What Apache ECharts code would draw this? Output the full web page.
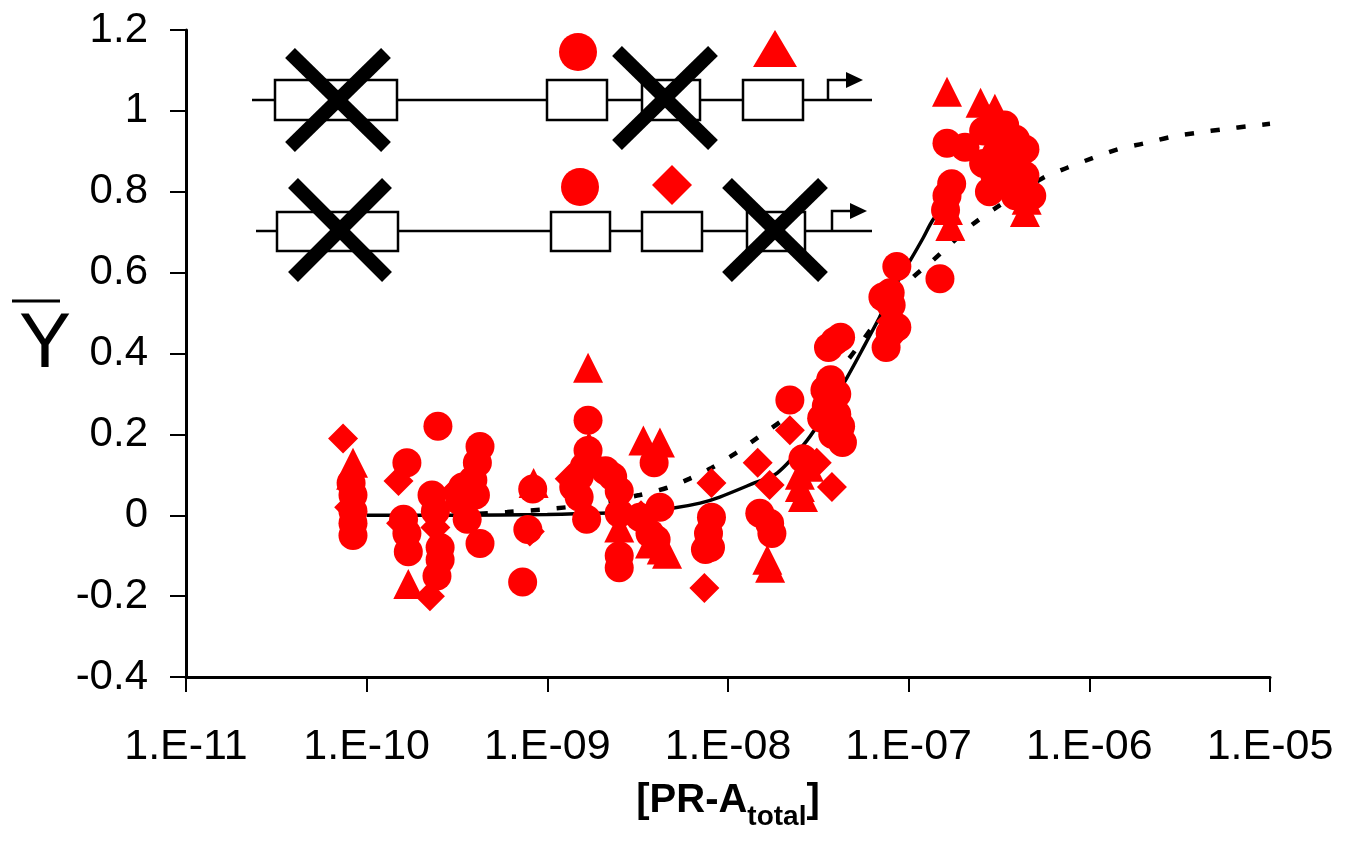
<!DOCTYPE html>
<html><head><meta charset="utf-8">
<script src="https://cdn.jsdelivr.net/npm/echarts@6/dist/echarts.min.js"></script>
<style>html,body{margin:0;padding:0;background:#fff}#c{width:1358px;height:842px}</style>
</head><body><div id="c"></div>
<script>
// ---------- DATA ----------
const xTickLabels = ['1.E-11','1.E-10','1.E-09','1.E-08','1.E-07','1.E-06','1.E-05'];
const xAxisTitle = ['[PR-A', 'total', ']'];
const yAxisTitle = 'Y';

// circle markers: [PR-A total], Ybar
const circles = [
  [8.2e-11,0.08],[8.4e-11,0.05],[8.4e-11,0.01],[8.4e-11,-0.02],[8.4e-11,-0.05],
  [1.67e-10,0.13],[1.6e-10,-0.01],[1.67e-10,-0.045],[1.7e-10,-0.09],
  [2.48e-10,0.22],[2.3e-10,0.05],[2.4e-10,0.01],[2.55e-10,-0.08],[2.55e-10,-0.11],[2.45e-10,-0.15],
  [4.24e-10,0.17],[4.1e-10,0.13],[3.87e-10,0.087],[3.4e-10,0.07],[3.28e-10,0.035],[3.6e-10,-0.01],[4.24e-10,-0.07],[4.0e-10,0.05],
  [8.3e-10,0.065],[7.8e-10,-0.035],[7.3e-10,-0.165],
  [1.68e-9,0.235],[1.6e-9,0.12],[1.5e-9,0.095],[1.5e-9,0.045],[1.65e-9,-0.01],[1.68e-9,0.16],[1.4e-9,0.07],
  [2.1e-9,0.11],[2.3e-9,0.095],[2.5e-9,0.06],[2.5e-9,0.005],[2.5e-9,-0.1],[2.5e-9,-0.13],
  [3.9e-9,0.13],[3.25e-9,-0.005],[3.7e-9,-0.045],[4.2e-9,0.02],[4.0e-9,-0.06],
  [8.1e-9,-0.005],[7.8e-9,-0.045],[7.5e-9,-0.085],[8.0e-9,-0.08],
  [1.5e-8,0.005],[1.7e-8,-0.02],[1.75e-8,-0.045],
  [2.2e-8,0.285],[2.6e-8,0.14],
  [3.44e-8,0.31],[3.7e-8,0.335],[3.9e-8,0.43],[3.6e-8,0.415],[4.2e-8,0.44],[3.5e-8,0.27],[4.0e-8,0.25],
  [4.2e-8,0.22],[3.8e-8,0.2],[4.3e-8,0.18],[4.0e-8,0.3],[3.3e-8,0.24],
  [8.6e-8,0.615],[7.9e-8,0.55],[7.2e-8,0.54],[7.9e-8,0.45],[7.5e-8,0.415],[8.6e-8,0.465],[8.0e-8,0.52],
  [1.49e-7,0.585],
  [1.63e-7,0.92],[1.73e-7,0.82],[1.63e-7,0.79],[1.6e-7,0.755],
  [2.05e-7,0.91],[2.6e-7,0.95],[3.4e-7,0.965],[3.9e-7,0.93],[4.4e-7,0.905],[4.4e-7,0.84],[4.8e-7,0.79],
  [3.0e-7,0.84],[2.6e-7,0.87],[3.6e-7,0.88],[2.8e-7,0.8],[3.9e-7,0.79],[3.3e-7,0.9]
];
const triangles = [
  [8.4e-11,0.13],[8.2e-11,0.10],
  [1.7e-10,-0.17],
  [8.4e-10,0.08],
  [1.68e-9,0.365],[1.7e-9,0.17],[1.6e-9,0.14],
  [2.5e-9,-0.03],
  [3.4e-9,0.185],[4.2e-9,0.18],[4.3e-9,-0.085],[4.6e-9,-0.095],[3.7e-9,-0.07],
  [1.71e-8,-0.13],[1.65e-8,-0.11],
  [2.5e-8,0.1],[2.5e-8,0.07],[2.6e-8,0.045],[2.8e-8,0.12],
  [1.63e-7,1.047],[1.65e-7,0.755],[1.7e-7,0.715],
  [2.5e-7,1.02],[3.0e-7,1.005],[4.4e-7,0.75],[4.5e-7,0.78],[2.8e-7,0.98],[3.6e-7,0.84],[3.0e-7,0.93]
];
const diamonds = [
  [7.4e-11,0.19],[8.0e-11,0.02],
  [1.5e-10,0.085],[1.55e-10,-0.02],
  [2.24e-10,-0.2],[2.4e-10,-0.03],
  [3.1e-10,0.06],[3.3e-10,0.045],
  [8.0e-10,-0.04],
  [1.33e-9,0.09],[1.45e-9,0.1],
  [3.3e-9,0.0],
  [8.1e-9,0.08],[7.4e-9,-0.18],
  [1.46e-8,0.13],[1.7e-8,0.075],
  [2.2e-8,0.21],
  [3.76e-8,0.07],[3.1e-8,0.13],
  [8.0e-8,0.48],
  [3.0e-7,0.96]
];
// fitted curves
const solidFit = [
  [1.0e-10,0.0],[3.0e-10,0.0],[1.0e-9,0.002],[3.0e-9,0.008],[5.0e-9,0.018],[7.0e-9,0.03],[9.0e-9,0.045],
  [1.4e-8,0.08],[1.87e-8,0.104],[2.74e-8,0.185],[3.6e-8,0.265],[4.55e-8,0.34],[5.7e-8,0.42],[7.1e-8,0.5],
  [8.5e-8,0.57],[1.02e-7,0.63],[1.2e-7,0.685],[1.36e-7,0.73],[1.6e-7,0.77]
];
const dottedFit = [
  [3.0e-10,0.0],[6.0e-10,0.008],[1.0e-9,0.015],[1.6e-9,0.025],[2.3e-9,0.037],[3.25e-9,0.05],
  [4.6e-9,0.068],[6.1e-9,0.09],[8.1e-9,0.117],[1.1e-8,0.153],[1.44e-8,0.19],[2.0e-8,0.235],
  [2.8e-8,0.29],[4.44e-8,0.376],[5.57e-8,0.433],[7.5e-8,0.51],[1.05e-7,0.587],[1.36e-7,0.63],
  [1.76e-7,0.676],[2.27e-7,0.72],[3.08e-7,0.762],[5.53e-7,0.834],[7.6e-7,0.86],[1.04e-6,0.883],
  [1.44e-6,0.905],[2.03e-6,0.92],[2.86e-6,0.936],[3.98e-6,0.946],[5.6e-6,0.955],[7.9e-6,0.963],[1.0e-5,0.968]
];

// ---------- CHART ----------
const FONT = '"Liberation Sans", Arial, Helvetica, sans-serif';
const RED = '#ff0000';
const chart = echarts.init(document.getElementById('c'), null, {renderer: 'canvas'});

function box(x, y, w, h) {
  return {type: 'rect', shape: {x: x, y: y, width: w, height: h},
    style: {fill: '#fff', stroke: '#000', lineWidth: 2.5}, z: 100};
}
function hline(x1, x2, y) {
  return {type: 'line', shape: {x1: x1, y1: y, x2: x2, y2: y},
    style: {stroke: '#000', lineWidth: 2.5}, z: 99};
}
function cross(cx, cy, hw, hh) {
  return [
    {type: 'line', shape: {x1: cx - hw, y1: cy - hh, x2: cx + hw, y2: cy + hh}, style: {stroke: '#000', lineWidth: 14}, z: 102},
    {type: 'line', shape: {x1: cx + hw, y1: cy - hh, x2: cx - hw, y2: cy + hh}, style: {stroke: '#000', lineWidth: 14}, z: 102}
  ];
}
function arrow(x, yBase, yTop) {
  return [
    {type: 'polyline', shape: {points: [[x, yBase], [x, yTop], [x + 20, yTop]]}, style: {stroke: '#000', lineWidth: 2.5, fill: null}, z: 101},
    {type: 'polygon', shape: {points: [[x + 18, yTop - 8], [x + 35, yTop], [x + 18, yTop + 8]]}, style: {fill: '#000'}, z: 101}
  ];
}

const inset = [].concat(
  // top row
  [hline(252, 872, 100), box(275, 80, 122, 40), box(547, 80, 60, 40), box(642, 80, 58, 40), box(743, 80, 60, 40)],
  cross(338, 100, 48, 47), cross(665, 98, 48, 47),
  [{type: 'circle', shape: {cx: 578, cy: 52, r: 19}, style: {fill: RED}, z: 101},
   {type: 'polygon', shape: {points: [[753, 67], [797, 67], [775, 30]]}, style: {fill: RED}, z: 101}],
  arrow(828, 100, 80),
  // bottom row
  [hline(256, 872, 231), box(277, 212, 121, 39), box(551, 212, 59, 39), box(642, 212, 60, 39), box(747, 212, 58, 39)],
  cross(340, 230, 47, 47), cross(775, 230, 48, 47),
  [{type: 'circle', shape: {cx: 580, cy: 187, r: 19}, style: {fill: RED}, z: 101},
   {type: 'polygon', shape: {points: [[672, 165], [692, 185], [672, 205], [652, 185]]}, style: {fill: RED}, z: 101}],
  arrow(832, 231, 211),
  // y-axis title with overline
  [{type: 'text', x: 45, y: 345, style: {text: yAxisTitle, font: '78px ' + FONT, fill: '#000', align: 'center', verticalAlign: 'middle'}, z: 100},
   {type: 'line', shape: {x1: 12, y1: 301, x2: 60, y2: 301}, style: {stroke: '#000', lineWidth: 3}, z: 100}]
);

const option = {
  animation: false,
  backgroundColor: '#fff',
  grid: {left: 186, right: 88, top: 30, bottom: 165, containLabel: false},
  xAxis: {
    type: 'log', logBase: 10, min: 1e-11, max: 1e-5, splitNumber: 6,
    axisLine: {onZero: false, lineStyle: {color: '#000', width: 3}},
    axisTick: {show: true, length: 15, lineStyle: {color: '#000', width: 2}},
    minorTick: {show: false},
    splitLine: {show: false},
    axisLabel: {
      color: '#000', fontSize: 43, fontFamily: FONT, margin: 49,
      formatter: function (v) { return xTickLabels[Math.round(Math.log10(v)) + 11] || ''; }
    },
    name: '{a|' + xAxisTitle[0] + '}{s|' + xAxisTitle[1] + '}{a|' + xAxisTitle[2] + '}',
    nameLocation: 'middle', nameGap: 98,
    nameTextStyle: {
      rich: {
        a: {fontSize: 40, fontWeight: 'bold', fontFamily: FONT, color: '#000', verticalAlign: 'bottom', lineHeight: 46},
        s: {fontSize: 28, fontWeight: 'bold', fontFamily: FONT, color: '#000', verticalAlign: 'bottom', lineHeight: 46, padding: [0, 0, -10, 0]}
      }
    }
  },
  yAxis: {
    type: 'value', min: -0.4, max: 1.2, interval: 0.2,
    axisLine: {show: true, onZero: false, lineStyle: {color: '#000', width: 3}},
    axisTick: {show: true, length: 16, lineStyle: {color: '#000', width: 2}},
    splitLine: {show: false},
    axisLabel: {
      color: '#000', fontSize: 42, fontFamily: FONT, margin: 38,
      formatter: function (v) { return String(Math.round(v * 10) / 10); }
    }
  },
  graphic: inset,
  series: [
    {type: 'line', data: dottedFit, showSymbol: false, smooth: 0.3, z: 2,
     lineStyle: {color: '#000', width: 4.5, type: [9, 17], cap: 'butt'}},
    {type: 'line', data: solidFit, showSymbol: false, smooth: 0.3, z: 2,
     lineStyle: {color: '#000', width: 3.5}},
    {type: 'scatter', data: circles, symbol: 'circle', symbolSize: 29, z: 5, itemStyle: {color: RED, opacity: 1}},
    {type: 'scatter', data: triangles, symbol: 'triangle', symbolSize: 30, z: 5, itemStyle: {color: RED, opacity: 1}},
    {type: 'scatter', data: diamonds, symbol: 'diamond', symbolSize: 30, z: 5, itemStyle: {color: RED, opacity: 1}}
  ]
};
chart.setOption(option);
</script>
</body></html>
